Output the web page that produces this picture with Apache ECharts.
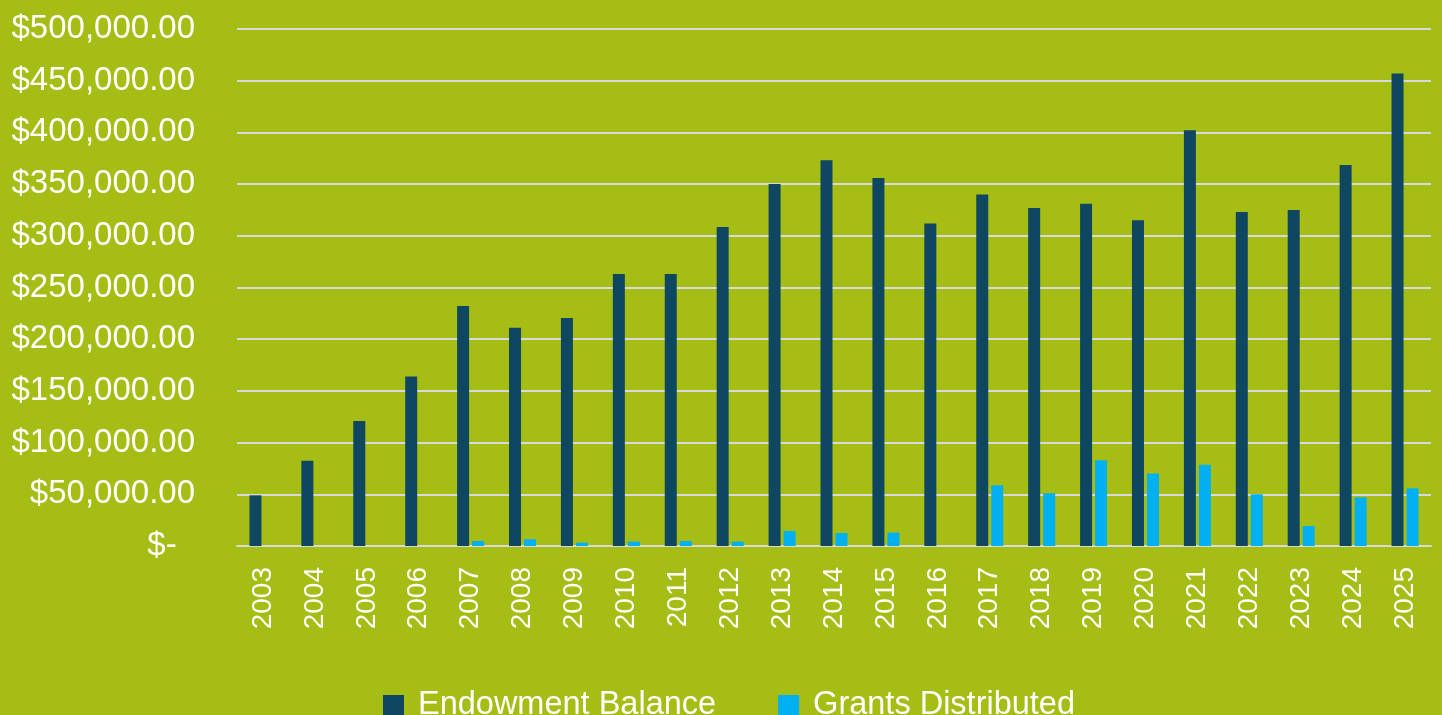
<!DOCTYPE html>
<html>
<head>
<meta charset="utf-8">
<script src="https://cdn.jsdelivr.net/npm/echarts@6/dist/echarts.min.js"></script>
<style>
html,body{margin:0;padding:0;background:#a6bd15;}
#box{width:1442px;height:715px;}
</style>
</head>
<body>
<div id="box"></div>
<script>
var years = ['2003','2004','2005','2006','2007','2008','2009','2010','2011','2012','2013','2014',
	'2015','2016','2017','2018','2019','2020','2021','2022','2023','2024','2025'];
// 年末余额
var endowment = [49000,82500,121000,164000,232000,211000,220500,263000,263000,308500,350000,373000,
	356000,312000,340000,327000,331000,315000,402000,323000,325000,368500,457000];
// 发放的资助
var grants = [0,0,0,0,4800,6500,3200,4200,4800,4200,14500,12600,
	12900,0,58700,51000,82900,70000,78600,50000,19300,47000,55800];
var seriesNames = ['Endowment Balance','Grants Distributed'];

var fontFam = 'Arial, "Liberation Sans", sans-serif';

var dom = document.getElementById('box');
var myChart = echarts.init(dom);
var option = {
	backgroundColor: '#a6bd15',
	animation: false,
	grid: {left: 237, right: 11, top: 29, bottom: 169},
	legend: {
		data: seriesNames,
		icon: 'rect',
		left: 378,
		top: 684,
		itemWidth: 21,
		itemHeight: 21,
		itemGap: 62,
		textStyle: {color: '#ffffff', fontSize: 32.5, fontFamily: fontFam, padding: [0, 0, 0, 9]}
	},
	xAxis: {
		type: 'category',
		data: years,
		axisTick: {show: false},
		axisLine: {lineStyle: {color: '#d9d9d9', width: 2}},
		axisLabel: {
			rotate: 90,
			margin: 21,
			color: '#ffffff',
			fontSize: 28,
			fontFamily: fontFam
		}
	},
	yAxis: {
		type: 'value',
		min: 0,
		max: 500000,
		interval: 50000,
		axisLine: {show: false},
		axisTick: {show: false},
		splitLine: {lineStyle: {color: '#d9d9d9', width: 2}},
		axisLabel: {
			margin: 42,
			color: '#ffffff',
			fontSize: 33,
			fontFamily: fontFam,
			formatter: function (v) {
				if (v === 0) return '$-  ';
				return '$' + v.toLocaleString('en-US') + '.00';
			}
		}
	},
	series: [
		{
			name: seriesNames[0],
			type: 'bar',
			data: endowment,
			barWidth: 12,
			barGap: '25%',
			itemStyle: {color: '#0f4761'}
		},
		{
			name: seriesNames[1],
			type: 'bar',
			data: grants,
			barWidth: 12,
			itemStyle: {color: '#00b0f0'}
		}
	]
};
myChart.setOption(option, true);
</script>
</body>
</html>
